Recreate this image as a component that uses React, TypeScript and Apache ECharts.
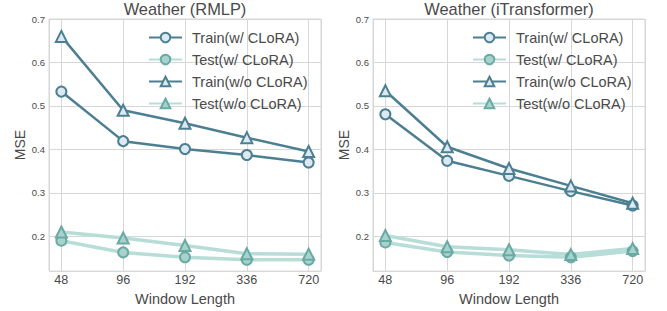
import React, { useEffect, useRef } from "react";
import * as echarts from "echarts";

const categories = ["48", "96", "192", "336", "720"];
const titles = ["Weather (RMLP)", "Weather (iTransformer)"];
const seriesNames = ["Train(w/ CLoRA)", "Test(w/ CLoRA)", "Train(w/o CLoRA)", "Test(w/o CLoRA)"];

const rmlpTrainW = [0.533, 0.419, 0.401, 0.387, 0.370];
const rmlpTestW = [0.190, 0.163, 0.152, 0.146, 0.146];
const rmlpTrainWo = [0.660, 0.490, 0.460, 0.427, 0.395];
const rmlpTestWo = [0.210, 0.196, 0.179, 0.160, 0.159];

const itTrainW = [0.481, 0.374, 0.339, 0.304, 0.271];
const itTestW = [0.186, 0.164, 0.156, 0.152, 0.166];
const itTrainWo = [0.535, 0.406, 0.356, 0.316, 0.276];
const itTestWo = [0.202, 0.176, 0.169, 0.158, 0.172];

const yMin = 0.12;
const yMax = 0.7;

const DARK = "#4c7f92";
const DARK_FILL = "#dce9f0";
const LIGHT = "#b8ddd8";
const LIGHT_EDGE = "#6aaaa4";
const LIGHT_FILL = "#a8d3cc";
const TEXT = "#4a4a4a";
const GRIDC = "#d7d7d7";
const FONT = "Liberation Sans";

function pts(vals: number[]) {
  return vals.map((v, i) => [i, v]);
}

export default function App() {
  const ref = useRef<HTMLDivElement>(null);
  useEffect(() => {
    if (!ref.current) return;
    const chart = echarts.init(ref.current, null, { renderer: "svg" });
    const grids = [
      { left: 49, top: 19, width: 272, height: 254 },
      { left: 373, top: 19, width: 272, height: 254 },
    ];
    const panels = [
      [rmlpTrainW, rmlpTestW, rmlpTrainWo, rmlpTestWo],
      [itTrainW, itTestW, itTrainWo, itTestWo],
    ];
    const series: any[] = [];
    panels.forEach((p, gi) => {
      p.forEach((vals, si) => {
        const isTrain = si % 2 === 0;
        const isTri = si >= 2;
        series.push({
          type: "line",
          name: seriesNames[si],
          xAxisIndex: gi,
          yAxisIndex: gi,
          data: pts(vals),
          symbol: isTri ? "triangle" : "circle",
          symbolSize: isTri ? 11 : 10,
          z: isTrain ? 3 : 2,
          lineStyle: { color: isTrain ? DARK : LIGHT, width: isTrain ? 2.5 : 3.5 },
          itemStyle: {
            color: isTrain ? DARK_FILL : LIGHT_FILL,
            borderColor: isTrain ? DARK : LIGHT_EDGE,
            borderWidth: 2,
          },
        });
      });
    });
    const xAxes = grids.map((_, gi) => ({
      type: "value",
      gridIndex: gi,
      min: -0.2,
      max: 4.2,
      splitNumber: 5,
      name: "Window Length",
      nameLocation: "middle",
      nameGap: 18,
      nameTextStyle: { color: TEXT, fontSize: 14.5, fontFamily: FONT },
      axisLine: { show: false },
      axisTick: { show: false },
      axisLabel: {
        color: TEXT,
        fontSize: 12.6,
        fontFamily: FONT,
        margin: 2,
        showMinLabel: false,
        showMaxLabel: false,
        formatter: (v: number) => (Number.isInteger(v) ? categories[v] ?? "" : ""),
      },
      splitLine: { show: true, lineStyle: { color: GRIDC, width: 1 } },
    }));
    const yAxes = grids.map((_, gi) => ({
      type: "value",
      gridIndex: gi,
      min: yMin,
      max: yMax,
      splitNumber: 5,
      name: "MSE",
      nameLocation: "middle",
      nameGap: 22,
      nameTextStyle: { color: TEXT, fontSize: 14, fontFamily: FONT },
      axisLine: { show: false },
      axisTick: { show: false },
      axisLabel: {
        color: TEXT,
        fontSize: 9.5,
        fontFamily: FONT,
        margin: 4,
        showMinLabel: false,
        formatter: (v: number) => (Math.abs(v * 10 - Math.round(v * 10)) < 1e-6 ? v.toFixed(1) : ""),
      },
      splitLine: { show: true, lineStyle: { color: GRIDC, width: 1 } },
    }));
    chart.setOption({
      animation: false,
      backgroundColor: "#ffffff",
      title: titles.map((t, gi) => ({
        text: t,
        left: grids[gi].left + grids[gi].width / 2,
        textAlign: "center",
        top: 0,
        padding: [1, 0, 0, 0],
        textStyle: { color: TEXT, fontSize: 16.4, fontWeight: "normal", fontFamily: FONT },
      })),
      legend: [148, 472].map((lx) => ({
        data: seriesNames,
        orient: "vertical",
        left: lx,
        top: 30,
        padding: 0,
        itemWidth: 33,
        itemHeight: 12,
        itemGap: 7,
        selectedMode: false,
        textStyle: { color: TEXT, fontSize: 14.5, fontFamily: FONT, padding: [0, 0, 0, 5] },
      })),
      grid: grids.map((g) => ({ ...g, show: true, borderColor: GRIDC, borderWidth: 1, backgroundColor: "transparent" })),
      xAxis: xAxes,
      yAxis: yAxes,
      series,
    });
    return () => chart.dispose();
  }, []);
  return (
    <div
      ref={ref}
      style={{ position: "fixed", left: 0, top: 0, width: 667, height: 311 }}
    />
  );
}
